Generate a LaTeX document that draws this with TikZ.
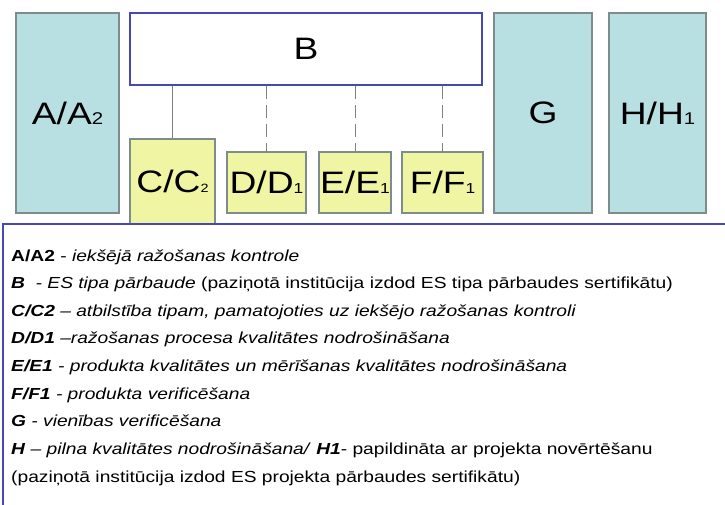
\documentclass[tikz,border=0pt]{standalone}
\usepackage{fontspec}
\setmainfont{Liberation Sans}
\definecolor{tealfill}{HTML}{B8DFE1}
\definecolor{yelfill}{HTML}{EFF5A3}
\definecolor{boxgray}{HTML}{7F8C8C}
\definecolor{bblue}{HTML}{4848B4}
\definecolor{lgray}{HTML}{808080}
\newcommand{\bigsub}[1]{{\fontsize{17}{17}\selectfont #1}}
\newcommand{\midsub}[1]{{\fontsize{14.5}{14.5}\selectfont #1}}
\newcommand{\smallsub}[1]{{\fontsize{12}{12}\selectfont #1}}
\newcommand{\wide}[1]{\scalebox{1.2}[1]{#1}}
\begin{document}
\begin{tikzpicture}[x=1pt,y=-1pt,
  tealbox/.style={draw=boxgray,line width=1.2pt,fill=tealfill,rectangle,inner sep=0pt,font=\fontsize{31}{31}\selectfont},
  yelbox/.style={draw=boxgray,line width=1.2pt,fill=yelfill,rectangle,inner sep=0pt,font=\fontsize{31}{31}\selectfont},
  bluebox/.style={draw=bblue,line width=2.2pt,fill=white,rectangle,inner sep=0pt,font=\fontsize{31}{31}\selectfont},
  conn/.style={draw=lgray,line width=1pt},
  dconn/.style={conn,dash pattern=on 13pt off 6pt},
  legline/.style={anchor=base west,inner sep=0pt,font=\fontsize{16}{16}\selectfont}]
\useasboundingbox (0,0) rectangle (725,504);
\fill[white] (0,0) rectangle (725,504);
% boxes
\node[tealbox,minimum width=103pt,minimum height=200pt] (A) at (67.5,113) {\raisebox{-3pt}{\wide{A/A\bigsub{2}}}};
\node[bluebox,minimum width=352pt,minimum height=72pt] (B) at (306,49) {\wide{B}};
\node[yelbox,minimum width=85pt,minimum height=85pt] (C) at (172.5,181.5) {\raisebox{-2pt}{\wide{C/C\smallsub{2}}}};
\node[yelbox,minimum width=79pt,minimum height=61pt] (D) at (266.5,182.5) {\wide{D/D\midsub{1}}};
\node[yelbox,minimum width=72pt,minimum height=61pt] (E) at (355,182.5) {\wide{E/E\midsub{1}}};
\node[yelbox,minimum width=81pt,minimum height=61pt] (F) at (442.5,182.5) {\wide{F/F\midsub{1}}};
\node[tealbox,minimum width=98pt,minimum height=200pt] (G) at (543,113) {\raisebox{-2pt}{\wide{G}}};
\node[tealbox,minimum width=97pt,minimum height=200pt] (H) at (657.5,113) {\raisebox{-3pt}{\wide{H/H\bigsub{1}}}};
% connectors
\draw[conn] (C.north) -- (C.north |- B.south);
\draw[dconn] (D.north |- B.south) -- (D.north);
\draw[dconn] (E.north |- B.south) -- (E.north);
\draw[dconn] (F.north |- B.south) -- (F.north);
% legend frame
\coordinate (LTL) at (3,224);
\coordinate (LBL) at (3,520);
\coordinate (LTR) at (740,224);
\draw[draw=bblue,line width=2.2pt] (LBL) -- (LTL) -- (LTR);
% legend text
\node[legline] (l1) at (11,261) {\wide{\textbf{A/A2} - \textit{iekšējā ražošanas kontrole}}};
\node[legline] (l2) at (11,288.6) {\wide{\textbf{\textit{B}}\ \ \textit{- ES tipa pārbaude} (paziņotā institūcija izdod ES tipa pārbaudes sertifikātu)}};
\node[legline] (l3) at (11,316.3) {\wide{\textbf{\textit{C/C2}} \textit{– atbilstība tipam, pamatojoties uz iekšējo ražošanas kontroli}}};
\node[legline] (l4) at (11,343.9) {\wide{\textbf{\textit{D/D1}} \textit{–ražošanas procesa kvalitātes nodrošināšana}}};
\node[legline] (l5) at (11,371.6) {\wide{\textbf{\textit{E/E1}} \textit{- produkta kvalitātes un mērīšanas kvalitātes nodrošināšana}}};
\node[legline] (l6) at (11,399.2) {\wide{\textbf{\textit{F/F1}} \textit{- produkta verificēšana}}};
\node[legline] (l7) at (11,426.9) {\wide{\textbf{\textit{G}} \textit{- vienības verificēšana}}};
\node[legline] (l8) at (11,454.5) {\wide{\textbf{\textit{H}} \textit{– pilna kvalitātes nodrošināšana/} \textbf{\textit{H1}}- papildināta ar projekta novērtēšanu}};
\node[legline] (l9) at (11,482.2) {\wide{(paziņotā institūcija izdod ES projekta pārbaudes sertifikātu)}};
\end{tikzpicture}
\end{document}
